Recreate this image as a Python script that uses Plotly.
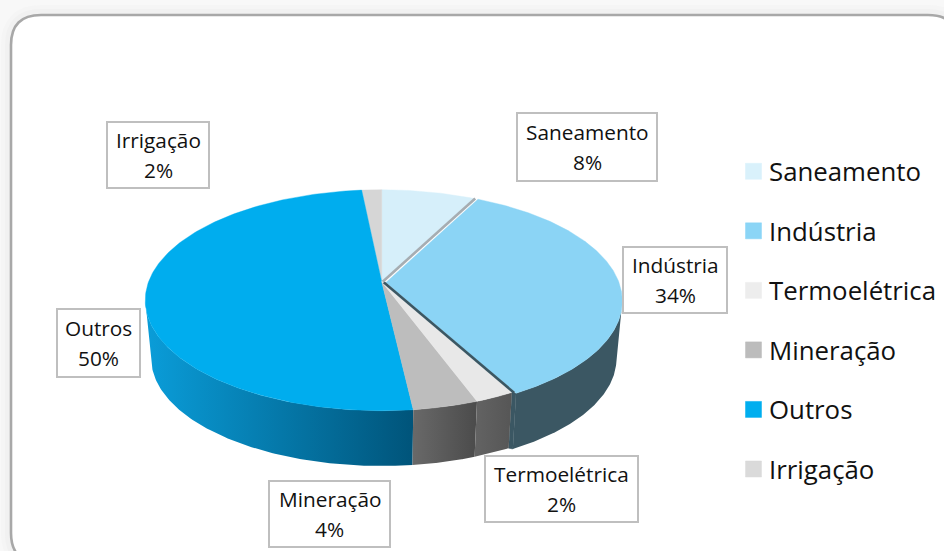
import numpy as np
import plotly.graph_objects as go

# ---- data ----
categories = ["Saneamento", "Indústria", "Termoelétrica", "Mineração", "Outros", "Irrigação"]
shares = [7.5, 34.6, 2.3, 3.8, 50.2, 1.6]          # slice sizes measured on the pie
percent_labels = ["8%", "34%", "2%", "4%", "50%", "2%"]  # printed labels
top_colors = ["#D6EFFA", "#8BD4F5", "#E8E8E8", "#BDBDBD", "#00ADEE", "#D6D6D6"]
legend_colors = ["#D9F1FB", "#8BD5F6", "#EDEDED", "#BCBCBC", "#00AEEF", "#DADADA"]
wall_left = ["#9DB5C0", "#3B5763", "#636363", "#696969", "#0A9DD9", "#8A8A8A"]
wall_right = ["#9DB5C0", "#3B5763", "#565656", "#4B4B4B", "#00547A", "#8A8A8A"]

# ---- label boxes (x0, y0, x1, y1 in chart pixels) ----
boxes = [(517, 113, 657, 181), (623, 247, 727, 313), (485, 456, 638, 522),
         (269, 481, 390, 547), (57, 309, 140, 377), (107, 122, 209, 188)]

# ---- pie geometry: perspective projection of a disc ----
CX, CY = 381.7, 281.7      # pie centre
A, B, K = 233.1, 107.4, 0.1674
DEPTH_SCALE, DEPTH_SHIFT = 0.975, 58.5
EXPLODE = {1: (4.2, 0.8)}
TANGENT = np.degrees(np.arccos(-K))


def project(theta_deg, r=1.0, bottom=False, off=(0, 0)):
    t = np.radians(theta_deg)
    u, v = r * np.sin(t), r * np.cos(t)
    w = 1 + K * v
    X, Y = A * u / w, B * v / w
    if bottom:
        X, Y = X * DEPTH_SCALE, Y * DEPTH_SCALE - DEPTH_SHIFT
    return CX + X + off[0], CY - Y + off[1]


edges = np.concatenate([[0], np.cumsum(shares)]) * 3.6 / (sum(shares) / 100)
fig = go.Figure()


def wall(i):
    lo, hi = edges[i], edges[i + 1]
    lo2, hi2 = max(lo, TANGENT), min(hi, 360 - TANGENT)
    if lo2 >= hi2:
        return
    off = EXPLODE.get(i, (0, 0))
    th = np.linspace(lo2, hi2, 120)
    x1, y1 = project(th, off=off)
    x2, y2 = project(th[::-1], bottom=True, off=off)
    xs = np.concatenate([x1, x2, x1[:1]])
    ys = np.concatenate([y1, y2, y1[:1]])
    fig.add_trace(go.Scatter(
        x=xs, y=ys, mode="lines", fill="toself", line=dict(width=0), showlegend=False,
        hoverinfo="skip",
        fillgradient=dict(type="horizontal",
                          colorscale=[[0, wall_left[i]], [1, wall_right[i]]])))


def top(i):
    off = EXPLODE.get(i, (0, 0))
    th = np.linspace(edges[i], edges[i + 1], 200)
    x, y = project(th, off=off)
    xs = np.concatenate([[CX + off[0]], x, [CX + off[0]]])
    ys = np.concatenate([[CY + off[1]], y, [CY + off[1]]])
    fig.add_trace(go.Scatter(
        x=xs, y=ys, mode="lines", fill="toself", fillcolor=top_colors[i],
        line=dict(width=0.4, color=top_colors[i]), showlegend=False,
        name=categories[i], text=f"{categories[i]} {percent_labels[i]}", hoverinfo="text"))


# cut face of the exploded slice, seen in the gap next to Termoelétrica
off = EXPLODE[1]
tx0, ty0 = project(edges[2])
tx1, ty1 = project(edges[2], off=off)
bx0, by0 = project(edges[2], bottom=True)
bx1, by1 = project(edges[2], bottom=True, off=off)
fig.add_trace(go.Scatter(x=[tx0, tx1, bx1, bx0, tx0], y=[ty0, ty1, by1, by0, ty0], mode="lines",
                         fill="toself", fillcolor=wall_left[1], line=dict(width=0.5, color=wall_left[1]),
                         showlegend=False, hoverinfo="skip"))
# walls, back to front
for i in [1, 4, 3, 2]:
    wall(i)
# tops
for i in [0, 5, 4, 3, 2, 1]:
    top(i)
# visible cut lines between slices
ex, ey = project(edges[2])
fig.add_trace(go.Scatter(x=[CX + 2, ex + 2.4], y=[CY + 0.5, ey + 0.5], mode="lines",
                         line=dict(color="#3B5763", width=2.6), showlegend=False, hoverinfo="skip"))
ex, ey = project(edges[1])
fig.add_trace(go.Scatter(x=[CX + 1, ex + 1.4], y=[CY, ey], mode="lines",
                         line=dict(color="#A6ADB2", width=2.6), showlegend=False, hoverinfo="skip"))

# legend
for i, c in enumerate(categories):
    fig.add_trace(go.Scatter(x=[None], y=[None], mode="markers", name=c, legendgroup=c,
                             marker=dict(symbol="square", size=16, color=legend_colors[i], angle=90,
                                         standoff=4.5,
                                         line=dict(width=0.5, color=legend_colors[i]))))

# frame
FX0, FY0, FX1, FY1, R = 11, 15, 958, 563, 30
frame = (f"M {FX0+R} {FY0} L {FX1-R} {FY0} Q {FX1} {FY0} {FX1} {FY0+R} L {FX1} {FY1-R} "
         f"Q {FX1} {FY1} {FX1-R} {FY1} L {FX0+R} {FY1} Q {FX0} {FY1} {FX0} {FY1-R} "
         f"L {FX0} {FY0+R} Q {FX0} {FY0} {FX0+R} {FY0} Z")
shapes = []
for w, col in [(20, "#F5F5F5"), (12, "#F1F1F1")]:
    shapes.append(dict(type="path", path=frame, xref="x", yref="y", layer="below",
                       line=dict(color=col, width=w)))
shapes.append(dict(type="path", path=frame, xref="x", yref="y", layer="below",
                   fillcolor="white", line=dict(color="#A8A8A8", width=2.6)))
annotations = []
for (x0, y0, x1, y1), name, pct in zip(boxes, categories, percent_labels):
    shapes.append(dict(type="rect", x0=x0, y0=y0, x1=x1, y1=y1, xref="x", yref="y", layer="above",
                       fillcolor="white", line=dict(color="#BFBFBF", width=2)))
    xc, yc = (x0 + x1) / 2, (y0 + y1) / 2
    for txt, dy in [(name, -15), (pct, 15)]:
        annotations.append(dict(x=xc, y=yc + dy, xref="x", yref="y", text=txt, showarrow=False,
                                xanchor="center", yanchor="middle",
                                font=dict(family="Open Sans", size=20.8, color="#111111")))

fig.update_layout(
    width=944, height=551, margin=dict(l=0, r=0, t=0, b=0),
    paper_bgcolor="#F8F8F8", plot_bgcolor="rgba(0,0,0,0)",
    xaxis=dict(range=[0, 944], visible=False, fixedrange=True),
    yaxis=dict(range=[551, 0], visible=False, fixedrange=True),
    shapes=shapes, annotations=annotations,
    legend=dict(x=729 / 944, y=1 - 148 / 551, xanchor="left", yanchor="top",
                bgcolor="rgba(0,0,0,0)", tracegroupgap=23, traceorder="grouped",
                font=dict(family="Open Sans", size=25.8, color="#111111")),
)
fig.write_html("out.html", config=dict(displayModeBar=False),
               post_script="document.body.style.margin='0';document.body.style.overflow='hidden';")
